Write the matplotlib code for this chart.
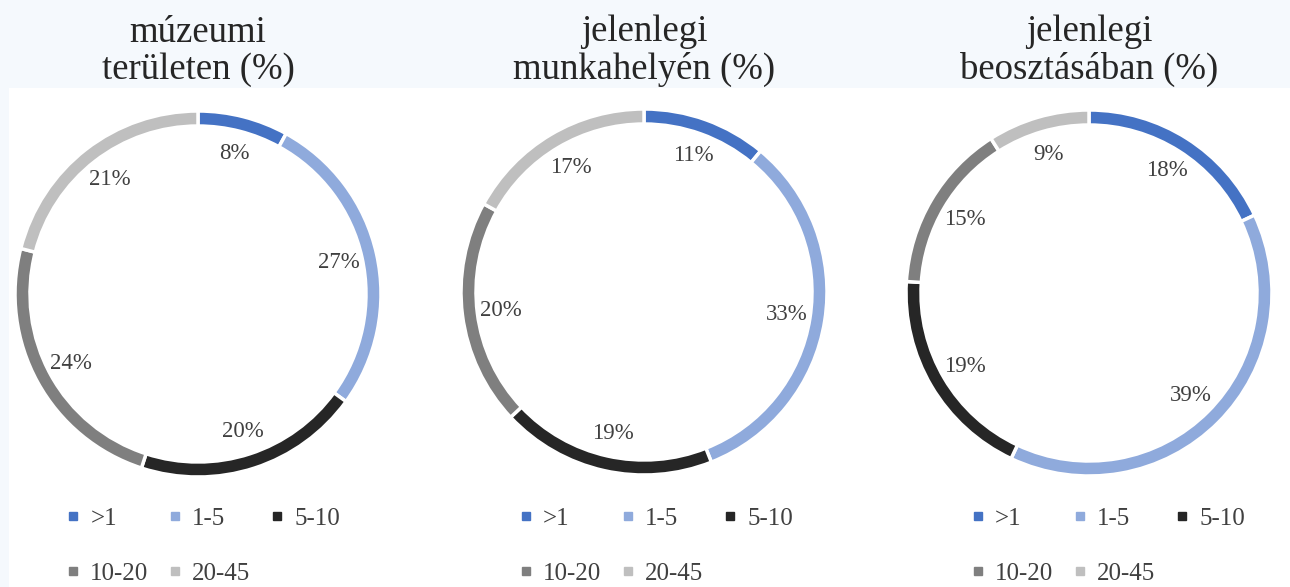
import matplotlib
matplotlib.use("Agg")
import matplotlib.pyplot as plt
from matplotlib.lines import Line2D
from matplotlib.patches import Rectangle

categories = [">1", "1-5", "5-10", "10-20", "20-45"]
colors = ["#4472C4", "#8FAADC", "#262626", "#7F7F7F", "#BFBFBF"]

titles = ["múzeumi\nterületen (%)", "jelenlegi\nmunkahelyén (%)", "jelenlegi\nbeosztásában (%)"]
muzeumi = [8, 27, 20, 24, 21]
munkahely = [11, 33, 19, 20, 17]
beosztas = [18, 39, 19, 15, 9]
series = [muzeumi, munkahely, beosztas]

W, H = 1290, 587
plt.rcParams['font.family'] = ['Liberation Serif', 'DejaVu Serif']

fig = plt.figure(figsize=(W / 100, H / 100), dpi=100)
fig.patch.set_facecolor("#f5f9fd")
fig.add_artist(Rectangle((9 / W, 0), 1, 1 - 88 / H, transform=fig.transFigure,
                         facecolor="white", edgecolor="none", zorder=0))

centers = [(198, 294), (644, 292), (1089, 293)]
radius = 183
legend_x = [64, 517, 969]
# legend fills column by column, so reorder to get row-wise order
order = [0, 3, 1, 4, 2]

for i, (vals, title) in enumerate(zip(series, titles)):
    cx, cy = centers[i]
    ax = fig.add_axes([(cx - radius) / W, (H - cy - radius) / H, 2 * radius / W, 2 * radius / H])
    ax.pie(vals, colors=colors, startangle=90, counterclock=False, radius=1,
           autopct='%1.0f%%', pctdistance=0.79,
           wedgeprops=dict(width=0.082, edgecolor="white", linewidth=2.5),
           textprops=dict(fontsize=16.5, color="#404040"))
    ax.set_xlim(-1, 1)
    ax.set_ylim(-1, 1)
    ax.set_aspect('equal')
    ax.axis('off')

    fig.text(cx / W, 1 - 51 / H, title, ha='center', va='center', fontsize=26.5,
             color="#262626", linespacing=1.1)

    handles = [Line2D([], [], marker='s', linestyle='', color=colors[k], markersize=6) for k in order]
    labels = [categories[k] for k in order]
    fig.legend(handles, labels, loc='center left', ncol=3,
               bbox_to_anchor=(legend_x[i] / W, 1 - 546 / H),
               frameon=False, fontsize=18, labelcolor="#404040",
               handlelength=0.7, handletextpad=0.35, columnspacing=0.7,
               labelspacing=1.3, borderpad=0, borderaxespad=0)

fig.savefig("out.png", dpi=100)
